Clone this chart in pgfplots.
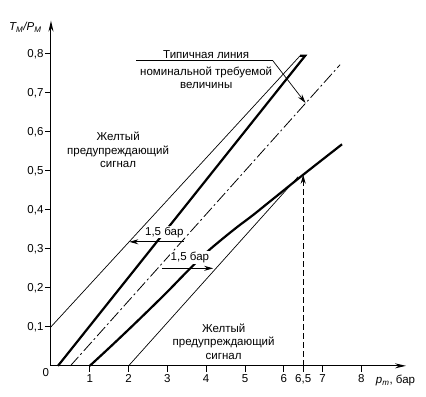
\documentclass[border=0pt]{standalone}
\usepackage{pgfplots}
\pgfplotsset{compat=1.18}
\usepackage{fontspec}
\setmainfont{Liberation Sans}
\usetikzlibrary{arrows.meta}
\begin{document}
\begin{tikzpicture}
\begin{axis}[
  x=38.8pt, y=390pt,
  xmin=0, xmax=9.15, ymin=0, ymax=0.885,
  axis lines=left,
  axis line style={line width=1pt, -{Stealth[length=11pt,width=5pt]}},
  clip=false,
  xtick={1,2,3,4,5,6,6.5,7,8},
  xticklabels={1,2,3,4,5,6,{6,5},7,8},
  ytick={0.1,0.2,0.3,0.4,0.5,0.6,0.7,0.8},
  yticklabels={{0,1},{0,2},{0,3},{0,4},{0,5},{0,6},{0,7},{0,8}},
  tick align=outside,
  major tick length=6pt,
  tick style={line width=0.8pt, black},
  ticklabel style={font=\fontsize{11.5}{13}\selectfont},
  yticklabel style={xshift=2pt},
  xticklabel style={yshift=1pt},
  /pgf/number format/assume math mode=true,
]
% upper boundary (thin)
\addplot[black, line width=0.7pt] coordinates {(0,0.1) (6.42,0.795)};
% upper thick line
\addplot[black, line width=2.2pt, line join=miter] coordinates {(0.18,0) (6.55,0.795) (6.42,0.795)};
% nominal (dash-dot)
\addplot[black, line width=0.8pt, dash pattern=on 12pt off 3pt on 2pt off 3pt] coordinates {(0.5,0) (7.45,0.772)};
% lower boundary (thin)
\addplot[black, line width=0.7pt] coordinates {(2,0) (6.37,0.485)};
% lower thick curve
\addplot[black, line width=2.2pt, smooth, tension=0.55] coordinates {
 (1,0) (1.5,0.046) (2,0.093) (2.5,0.141) (3,0.19) (3.5,0.241) (4,0.29) (4.4,0.324) (4.8,0.356) (5.2,0.386) (5.6,0.418) (6.5,0.49) (7.5,0.568)};
% texts with white background (drawn before arrows)
\node[font=\fontsize{11.5}{12}\selectfont, fill=white, inner sep=1pt] at (axis cs:2.92,0.343) {1,5 бар};
\node[font=\fontsize{11.5}{12}\selectfont, fill=white, inner sep=1pt] at (axis cs:3.58,0.277) {1,5 бар};
% 1,5 bar arrows
\addplot[black, line width=0.9pt, -{Stealth[length=9pt,width=5pt]}] coordinates {(3.42,0.318) (2.02,0.318)};
\addplot[black, line width=0.9pt, -{Stealth[length=9pt,width=5pt]}] coordinates {(2.86,0.25) (4.18,0.25)};
% vertical dashed arrow at 6,5
\addplot[black, line width=0.9pt, dash pattern=on 6pt off 3pt, -{Stealth[length=9pt,width=5pt]}] coordinates {(6.5,0) (6.5,0.49)};
% leader line of label
\addplot[black, line width=0.7pt] coordinates {(2.2,0.782) (5.72,0.782)};
\addplot[black, line width=0.7pt, -{Stealth[length=9pt,width=5pt]}] coordinates {(5.72,0.782) (6.56,0.674)};
% texts
\node[font=\fontsize{11.5}{12}\selectfont, inner sep=0pt] at (axis cs:4.0,0.797) {Типичная линия};
\node[font=\fontsize{11.5}{12}\selectfont, inner sep=0pt] at (axis cs:4.0,0.753) {номинальной требуемой};
\node[font=\fontsize{11.5}{12}\selectfont, inner sep=0pt] at (axis cs:4.0,0.72) {величины};
\node[font=\fontsize{11.5}{13.5}\selectfont, align=center, inner sep=0pt] at (axis cs:1.73,0.553) {Желтый\\предупреждающий\\сигнал};
\node[font=\fontsize{11.5}{13.5}\selectfont, align=center, inner sep=0pt] at (axis cs:4.45,0.062) {Желтый\\предупреждающий\\сигнал};
\node[font=\fontsize{11.5}{13}\selectfont, inner sep=0pt] at (axis cs:-0.13,-0.016) {0};
\node[font=\fontsize{11.5}{13}\selectfont, inner sep=0pt] at (axis cs:-0.66,0.868) {\textit{T\textsubscript{M}/P\textsubscript{M}}};
\node[font=\fontsize{11.5}{13}\selectfont, inner sep=0pt, anchor=west] at (axis cs:8.37,-0.038) {\textit{p\textsubscript{m}}, бар};
\coordinate (ll) at (axis cs:-1.314,-0.0795);
\coordinate (ur) at (axis cs:9.665,0.938);
\end{axis}
\path (ll) rectangle (ur);
\end{tikzpicture}
\end{document}
